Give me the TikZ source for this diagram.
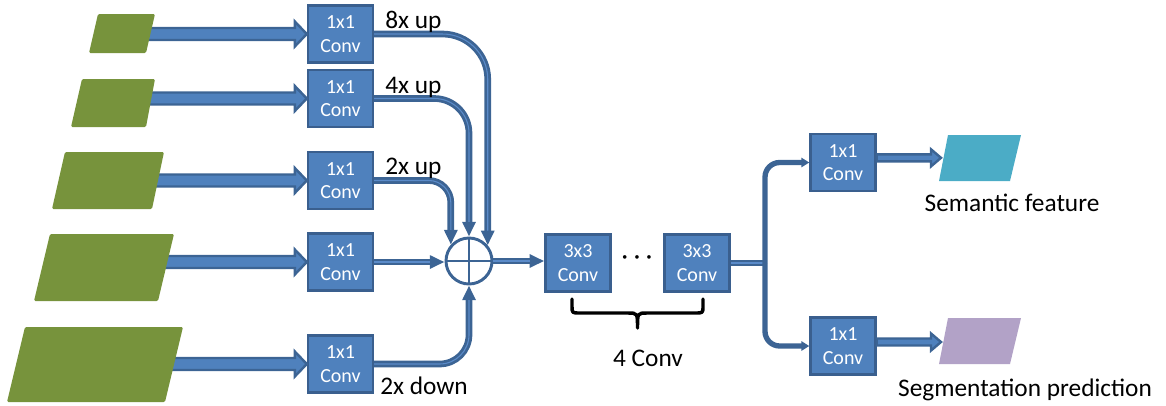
\documentclass[tikz,border=0pt]{standalone}
\usepackage{fontspec}
\setmainfont{Carlito}
\usetikzlibrary{arrows.meta,calc}
\definecolor{boxfill}{HTML}{4F81BD}
\definecolor{boxline}{HTML}{3A5F8E}
\definecolor{conn}{HTML}{3C6494}
\definecolor{midblue}{HTML}{5B8BC9}
\definecolor{leaf}{HTML}{77933C}
\definecolor{cyanp}{HTML}{4BACC6}
\definecolor{lilac}{HTML}{B2A2C7}
\newcommand\blockarrow[5]{%
  \draw[blockarr] let \p1=(#1), \p2=(#2) in
   (\x1,\y1+#3) -- (\x2-#5,\y1+#3) -- (\x2-#5,\y1+#4) -- (\x2,\y1) --
   (\x2-#5,\y1-#4) -- (\x2-#5,\y1-#3) -- (\x1,\y1-#3) -- cycle;}
\newcommand\connect[2][]{\draw[connline,#1] #2; \draw[connmid,#1] #2;}
\tikzset{
  conv/.style={draw=boxline, fill=boxfill, line width=1.8pt, minimum width=48.75pt,
    minimum height=42.75pt, text=white, font=\fontsize{15}{17.5}\selectfont,
    align=center, inner sep=0pt},
  lab/.style={font=\fontsize{19}{23}\selectfont, inner sep=0pt},
  blockarr/.style={draw=conn, fill=boxfill, line width=1.8pt, line join=miter},
  connline/.style={draw=conn, line width=5pt, -{Triangle[length=11pt,width=9.5pt]}},
  connmid/.style={draw=midblue, line width=0.8pt, shorten >=11pt},
  sumnode/.style={circle, draw=conn, line width=2.2pt, fill=white, minimum size=34.5pt, inner sep=0pt},
  plus/.style={draw=conn, line width=1.5pt},
  bracel/.style={draw=black, line width=2.6pt, line cap=round, line join=round}
}
\begin{document}
\begin{tikzpicture}[x=0.75pt,y=-0.75pt]
\useasboundingbox (0,0) rectangle (1166,405);
% conv boxes
\node[conv] (b1) at (340.5,34) {1x1\\Conv};
\node[conv] (b2) at (340.5,98.5) {1x1\\Conv};
\node[conv] (b3) at (340.5,180.5) {1x1\\Conv};
\node[conv] (b4) at (340.5,262) {1x1\\Conv};
\node[conv] (b5) at (340.5,364) {1x1\\Conv};
\node[conv] (c1) at (578,263) {3x3\\Conv};
\node[conv] (c2) at (697,263) {3x3\\Conv};
\node[conv] (o1) at (843,162.5) {1x1\\Conv};
\node[conv] (o2) at (843,346) {1x1\\Conv};
\node[sumnode] (sum) at (469,261) {};
\draw[plus] (sum.center) ++(0,-22) -- ++(0,44) (sum.center) ++(-22,0) -- ++(44,0);
% left block arrows
\coordinate (s1) at (140,34);
\coordinate (s2) at (141,98.5);
\coordinate (s3) at (148,180.5);
\coordinate (s4) at (157,262);
\coordinate (s5) at (164,364);
\blockarrow{s1}{b1.west}{4.5pt}{9.4pt}{9pt}
\blockarrow{s2}{b2.west}{4.5pt}{9.4pt}{9pt}
\blockarrow{s3}{b3.west}{4.5pt}{9.4pt}{9pt}
\blockarrow{s4}{b4.west}{4.5pt}{9.4pt}{9pt}
\blockarrow{s5}{b5.west}{4.5pt}{9.4pt}{9pt}
% parallelograms (inputs)
\fill[leaf, rounded corners=1pt] (98,14) -- (155,14) -- (146,53) -- (89,53) -- cycle;
\fill[leaf, rounded corners=1pt] (82,79) -- (155,79) -- (146,127) -- (71,127) -- cycle;
\fill[leaf, rounded corners=1pt] (65,152) -- (164,152) -- (152,209) -- (52,209) -- cycle;
\fill[leaf, rounded corners=1pt] (50,234) -- (174,234) -- (158,301) -- (34,301) -- cycle;
\fill[leaf, rounded corners=1pt] (25,327) -- (183,327) -- (165,402) -- (7,402) -- cycle;
% connectors to sum
\connect[rounded corners=34pt]{(b1.east) -| (sum.40)}
\connect[rounded corners=26pt]{(b2.east) -| (sum.north)}
\connect[rounded corners=16.5pt]{(b3.east) -| (sum.138)}
\connect{(b4.east) -- (b4.east -| sum.west)}
\connect[rounded corners=22pt]{(b5.east) -| (sum.south)}
\connect{(sum.east) -- (sum.east -| c1.west)}
% labels
\node[lab, anchor=west] (l8) at (385,22) {8x up};
\node[lab, anchor=west] (l4) at (385,87.5) {4x up};
\node[lab, anchor=west] (l2) at (385,168.5) {2x up};
\node[lab, anchor=west] (ld) at (380,386) {2x down};
\node[lab] (dots) at (637,260) {· · ·};
% brace
\draw[bracel] (572,299) -- (572,306) .. controls (572,313) .. (580,313) -- (628,313)
  .. controls (637.5,313) .. (637.5,328) .. controls (637.5,313) .. (647,313) -- (695,313)
  .. controls (703,313) .. (703,306) -- (703,299);
\node[lab] (four) at (648,358.5) {4 Conv};
% split to heads
\coordinate (jn) at (765,263);
\draw[draw=conn, line width=5pt] (c2.east) -- (jn);
\draw[draw=midblue, line width=0.8pt] (c2.east) -- (jn);
\draw[draw=conn, line width=4pt, rounded corners=11pt, -{Triangle[length=6pt,width=7pt]}] (jn) |- (o1.west);
\draw[draw=conn, line width=4pt, rounded corners=11pt, -{Triangle[length=6pt,width=7pt]}] (jn) |- (o2.west);
% output arrows
\coordinate (t1) at (941,157.5);
\coordinate (t2) at (941,342);
\blockarrow{[yshift=3.5pt]o1.east}{t1}{2.6pt}{6.4pt}{7.5pt}
\blockarrow{[yshift=3pt]o2.east}{t2}{2.6pt}{6.4pt}{7.5pt}
\fill[cyanp] (948,135) -- (1021,135) -- (1010,181) -- (939,181) -- cycle;
\fill[lilac] (948,318) -- (1021,318) -- (1010,364) -- (939,364) -- cycle;
\node[lab] (sf) at (1012,202.5) {Semantic feature};
\node[lab] (sp) at (1025,389.5) {Segmentation prediction};
\end{tikzpicture}
\end{document}
